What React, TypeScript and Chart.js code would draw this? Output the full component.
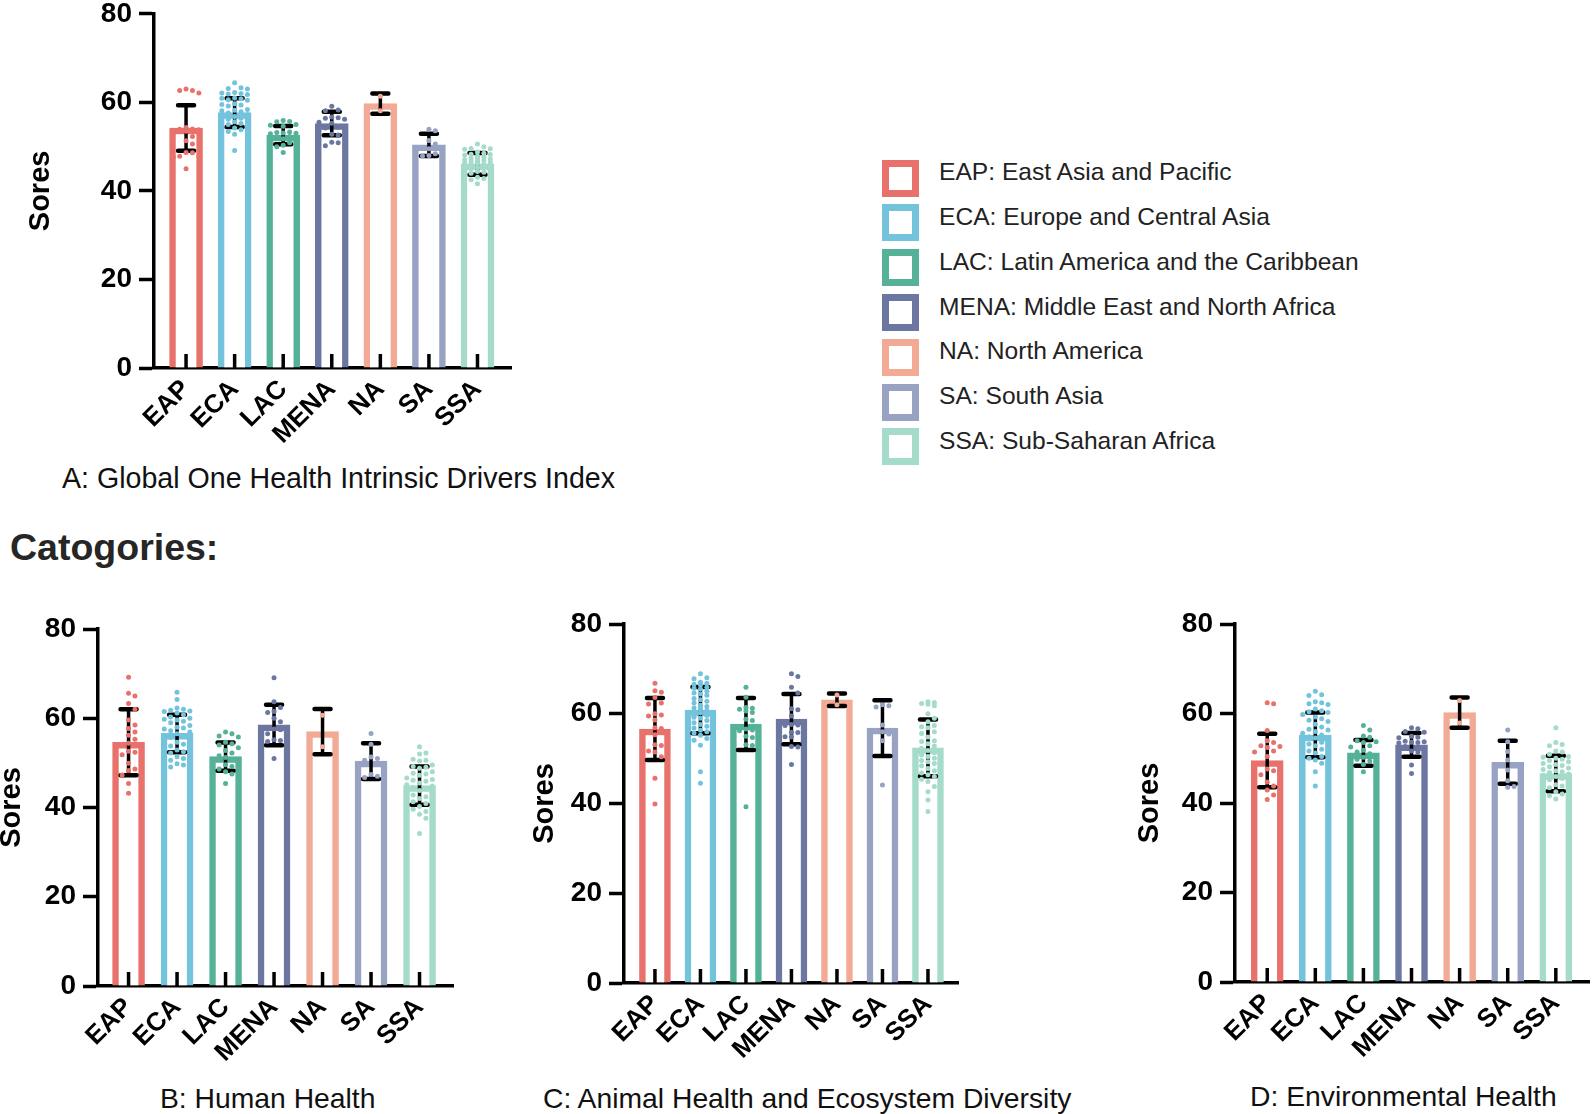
import React, { useEffect, useRef } from 'react';
import { Chart, registerables } from 'chart.js';
Chart.register(...registerables);

const FONT = "'Liberation Sans', Arial, Helvetica, sans-serif";
Chart.defaults.font.family = FONT;

// ---------- categories / labels ----------
const categories = ['EAP', 'ECA', 'LAC', 'MENA', 'NA', 'SA', 'SSA'];
const regionNames = [
  'EAP: East Asia and Pacific',
  'ECA: Europe and Central Asia',
  'LAC: Latin America and the Caribbean',
  'MENA: Middle East and North Africa',
  'NA: North America',
  'SA: South Asia',
  'SSA: Sub-Saharan Africa',
];
const colors = ['#E9716B', '#73C3DC', '#55B198', '#6C77A1', '#F3AA95', '#98A3C4', '#A4DBCA'];
const yTicks = [0, 20, 40, 60, 80];
const yAxisTitle = 'Sores';
const panelTitles = [
  'A: Global One Health Intrinsic Drivers Index',
  'B: Human Health',
  'C: Animal Health and Ecosystem Diversity',
  'D: Environmental Health',
];
const sectionTitle = 'Catogories:';

// ---------- Panel A: Global index ----------
const meansA = [54.2, 57.7, 52.6, 55.2, 59.7, 50.4, 46.1];
const sdA = [5.15, 3.25, 2.05, 2.65, 2.3, 2.5, 2.45];
const aEAP = [63.0, 62.7, 62.7, 62.1, 54.3, 54.0, 53.9, 53.8, 53.7, 53.5, 52.3, 51.3, 50.6, 48.7, 48.6, 47.8, 47.7, 47.6, 45.0];
const aECA = [64.4, 63.3, 63.1, 63.0, 62.2, 62.1, 62.0, 61.9, 61.8, 61.0, 60.9, 60.8, 60.6, 60.5, 59.7, 59.5, 59.4, 59.2, 58.4, 58.2, 58.1, 57.9, 57.6, 57.2, 56.8, 56.6, 56.4, 56.2, 55.8, 55.6, 55.4, 55.2, 55.0, 54.6, 54.2, 54.0, 53.8, 53.4, 53.1, 52.8, 49.1];
const aLAC = [55.9, 55.7, 55.6, 55.0, 54.8, 54.6, 53.3, 53.2, 53.1, 53.0, 52.9, 52.3, 52.0, 51.8, 51.1, 51.0, 50.9, 50.3, 50.0, 48.7];
const aMENA = [59.1, 58.3, 58.1, 56.7, 56.5, 56.4, 56.2, 55.5, 55.3, 54.4, 54.2, 52.8, 52.6, 51.0, 50.9, 50.2];
const aNA = [61.4, 58.1];
const aSA = [53.9, 53.6, 51.4, 49.5, 48.4, 48.0, 47.9, 50.6];
const aSSA = [50.6, 50.0, 49.6, 49.5, 49.4, 48.8, 48.5, 48.3, 48.2, 48.1, 47.9, 47.6, 47.4, 47.2, 47.1, 47.0, 46.9, 46.6, 46.4, 46.3, 46.2, 46.0, 45.9, 45.7, 45.5, 45.3, 45.1, 45.0, 44.8, 44.6, 44.4, 44.2, 44.0, 43.8, 43.5, 43.1, 42.8, 42.5, 42.0, 41.6, 41.5];

// ---------- Panel B: Human Health ----------
const meansB = [54.6, 56.6, 51.4, 58.5, 57.0, 50.4, 44.9];
const sdB = [7.4, 4.2, 3.15, 4.55, 5.05, 4.0, 4.3];
const bEAP = [69.2, 65.6, 65.0, 63.3, 62.0, 59.6, 58.5, 57.7, 56.9, 56.2, 55.3, 54.4, 52.6, 52.4, 51.8, 49.9, 48.6, 48.3, 47.3, 45.4, 43.2];
const bECA = [65.8, 64.2, 62.3, 62.0, 61.8, 61.6, 61.5, 61.2, 60.8, 60.3, 60.0, 59.8, 59.6, 59.3, 59.0, 58.4, 58.0, 57.8, 57.6, 57.2, 56.9, 56.5, 56.0, 55.7, 55.4, 55.1, 54.6, 54.2, 53.8, 53.6, 53.3, 52.9, 52.5, 52.2, 51.8, 51.4, 51.0, 50.6, 50.2, 49.8, 49.5, 49.1];
const bLAC = [56.9, 56.5, 56.0, 55.8, 54.6, 54.3, 54.0, 53.4, 52.8, 52.2, 51.6, 51.2, 50.7, 50.2, 49.6, 49.2, 48.6, 48.0, 47.5, 45.4];
const bMENA = [69.1, 63.7, 62.4, 61.5, 61.3, 60.0, 59.2, 57.6, 57.4, 56.5, 55.2, 55.0, 54.8, 54.0, 51.0];
const bNA = [60.7, 53.6];
const bSA = [56.6, 54.2, 51.3, 51.0, 50.6, 47.4, 47.0, 46.7];
const bSSA = [53.6, 52.2, 52.0, 50.8, 50.6, 50.4, 49.5, 49.2, 49.0, 48.8, 48.0, 47.7, 47.5, 47.2, 46.6, 46.3, 46.1, 45.9, 45.5, 45.1, 44.8, 44.5, 44.2, 43.8, 43.4, 43.2, 42.8, 42.4, 42.0, 41.7, 41.3, 40.9, 40.6, 40.2, 39.6, 39.1, 38.5, 37.6, 34.2];

// ---------- Panel C: Animal Health and Ecosystem Diversity ----------
const meansC = [56.6, 60.8, 57.7, 58.8, 63.1, 56.8, 52.4];
const sdC = [6.9, 5.15, 5.8, 5.6, 1.4, 6.2, 6.3];
const cEAP = [66.8, 65.1, 64.8, 63.6, 62.4, 62.2, 60.0, 59.7, 59.5, 58.6, 56.9, 56.7, 55.3, 53.1, 52.9, 51.7, 51.5, 50.4, 45.6, 39.9];
const cECA = [68.9, 68.0, 67.8, 67.0, 66.8, 66.6, 66.4, 65.9, 65.7, 65.5, 65.0, 64.6, 64.4, 64.1, 63.4, 63.1, 62.8, 62.4, 61.9, 61.6, 61.3, 61.0, 60.7, 60.5, 60.2, 59.6, 59.2, 59.0, 58.5, 58.0, 57.6, 57.2, 56.8, 56.3, 56.0, 55.7, 55.2, 54.5, 54.1, 53.0, 47.1, 44.5];
const cLAC = [65.9, 63.7, 61.4, 61.2, 61.0, 60.6, 60.3, 58.8, 58.5, 56.6, 56.4, 56.2, 55.0, 54.7, 53.1, 52.9, 39.3];
const cMENA = [68.9, 68.3, 65.9, 64.6, 61.1, 60.9, 59.5, 57.6, 57.5, 57.4, 55.9, 55.8, 54.9, 54.8, 52.7, 52.6, 48.7];
const cNA = [64.2, 62.0];
const cSA = [62.0, 61.8, 61.5, 57.5, 56.0, 55.5, 54.0, 44.1];
const cSSA = [62.7, 62.5, 62.3, 62.1, 61.8, 60.0, 59.0, 58.2, 57.4, 57.1, 56.9, 56.0, 55.6, 54.8, 54.0, 53.8, 53.3, 52.8, 52.3, 51.8, 51.3, 50.8, 50.5, 50.1, 49.6, 49.3, 48.9, 48.4, 47.8, 47.3, 46.8, 46.4, 46.0, 45.4, 44.9, 43.8, 42.6, 40.8, 38.2];

// ---------- Panel D: Environmental Health ----------
const meansD = [49.5, 55.2, 51.2, 53.0, 60.2, 49.1, 46.6];
const sdD = [6.0, 5.0, 2.9, 2.65, 3.4, 4.8, 3.95];
const dEAP = [62.4, 62.2, 56.2, 53.9, 53.5, 52.8, 52.6, 52.4, 51.6, 51.4, 50.4, 47.6, 47.2, 46.3, 44.7, 43.8, 42.9, 41.8, 40.8];
const dECA = [65.0, 64.2, 64.0, 62.6, 62.4, 62.2, 62.0, 61.0, 60.6, 60.4, 60.2, 59.8, 59.2, 58.8, 58.5, 58.2, 57.6, 57.0, 56.5, 56.3, 56.0, 55.6, 55.2, 54.8, 54.5, 54.0, 53.6, 53.2, 52.8, 52.4, 52.0, 51.6, 51.2, 50.8, 50.4, 50.0, 49.6, 49.2, 48.9, 47.0, 43.8];
const dLAC = [57.3, 56.3, 55.0, 54.7, 53.9, 53.7, 53.5, 52.8, 52.5, 51.8, 51.4, 51.0, 50.6, 50.2, 49.8, 49.6, 49.4, 48.6, 47.0];
const dMENA = [56.8, 56.6, 56.0, 55.8, 54.9, 54.7, 54.6, 53.8, 53.7, 53.6, 53.5, 53.4, 52.6, 51.6, 51.4, 48.5, 46.6];
const dNA = [62.9, 57.9];
const dSA = [56.3, 53.7, 51.5, 49.6, 47.4, 45.0, 43.7, 43.5];
const dSSA = [56.8, 53.5, 53.1, 52.8, 51.6, 51.4, 50.9, 50.4, 50.2, 50.0, 49.8, 49.5, 49.2, 48.8, 48.6, 48.4, 48.1, 47.8, 47.5, 47.2, 47.0, 46.8, 46.5, 46.2, 45.9, 45.5, 45.2, 44.9, 44.5, 44.1, 43.8, 43.4, 42.9, 42.5, 42.0, 41.6, 41.3, 40.9, 40.6];

// ---------- layout (styling only) ----------
type Geo = {
  left: number; top: number; width: number; height: number;
  l: number; r: number; t: number; b: number;
  xMin: number; xMax: number; barW: number; titleX: number;
};
const geoA: Geo = { left: -10, top: -10, width: 540, height: 470, l: 154, r: 511, t: 10, b: 368, xMin: -0.66, xMax: 6.69, barW: 33, titleX: 41 };
const geoB: Geo = { left: -10, top: 590, width: 480, height: 510, l: 98, r: 453, t: 629, b: 986, xMin: -0.63, xMax: 6.69, barW: 32, titleX: 12 };
const geoC: Geo = { left: 500, top: 590, width: 480, height: 510, l: 624, r: 958, t: 624, b: 983, xMin: -0.68, xMax: 6.66, barW: 31, titleX: 545 };
const geoD: Geo = { left: 1080, top: 590, width: 513, height: 510, l: 1235, r: 1592, t: 624, b: 982, xMin: -0.67, xMax: 6.69, barW: 32, titleX: 1150 };

const panels = [
  { key: 'A', geo: geoA, means: meansA, sds: sdA, points: [aEAP, aECA, aLAC, aMENA, aNA, aSA, aSSA] },
  { key: 'B', geo: geoB, means: meansB, sds: sdB, points: [bEAP, bECA, bLAC, bMENA, bNA, bSA, bSSA] },
  { key: 'C', geo: geoC, means: meansC, sds: sdC, points: [cEAP, cECA, cLAC, cMENA, cNA, cSA, cSSA] },
  { key: 'D', geo: geoD, means: meansD, sds: sdD, points: [dEAP, dECA, dLAC, dMENA, dNA, dSA, dSSA] },
];

// beeswarm placement of dots inside a bar (pixel offsets from centre)
function swarmOffsets(vals: number[], pxPerUnit: number, half: number): number[] {
  const d = 6.4;
  const idx = vals.map((_, i) => i).sort((a, b) => vals[b] - vals[a]);
  const placed: [number, number][] = [];
  const out = new Array(vals.length).fill(0);
  for (const i of idx) {
    const y = vals[i] * pxPerUnit;
    let chosen: number | null = null;
    let bestX = 0;
    let bestD = -1;
    for (let k = 0; k < 40; k++) {
      const c = k === 0 ? 0 : (k % 2 ? 1 : -1) * Math.ceil(k / 2) * d;
      if (Math.abs(c) > half) break;
      let minD = Infinity;
      for (const [px, py] of placed) {
        const dd = Math.hypot(px - c, py - y);
        if (dd < minD) minD = dd;
      }
      if (minD >= d) { chosen = c; break; }
      if (minD > bestD) { bestD = minD; bestX = c; }
    }
    const x = chosen ?? bestX;
    out[i] = x;
    placed.push([x, y]);
  }
  return out;
}

const errorBarsPlugin = {
  id: 'errorBars',
  afterDatasetDraw(chart: any, args: any) {
    const ds = chart.data.datasets[args.index];
    if (!ds.errors) return;
    const { ctx, scales } = chart;
    const x = scales.x, y = scales.y;
    ctx.save();
    ctx.strokeStyle = '#000';
    ds.data.forEach((d: any, i: number) => {
      const px = x.getPixelForValue(d.x);
      const top = y.getPixelForValue(d.y + ds.errors[i]);
      const bot = y.getPixelForValue(d.y - ds.errors[i]);
      ctx.lineWidth = 3.5;
      ctx.lineCap = 'butt';
      ctx.beginPath();
      ctx.moveTo(px, top);
      ctx.lineTo(px, bot);
      ctx.stroke();
      ctx.lineWidth = 4.5;
      ctx.lineCap = 'round';
      ctx.beginPath();
      ctx.moveTo(px - 8, top); ctx.lineTo(px + 8, top);
      ctx.moveTo(px - 8, bot); ctx.lineTo(px + 8, bot);
      ctx.stroke();
    });
    ctx.restore();
  },
};

const innerTicksPlugin = {
  id: 'innerTicks',
  afterDatasetsDraw(chart: any) {
    const { ctx, scales } = chart;
    const x = scales.x, y = scales.y;
    const base = y.getPixelForValue(0);
    ctx.save();
    ctx.strokeStyle = '#000';
    ctx.lineWidth = 3.5;
    ctx.beginPath();
    categories.forEach((_, i) => {
      const px = x.getPixelForValue(i);
      ctx.moveTo(px, base);
      ctx.lineTo(px, base - 14);
    });
    ctx.stroke();
    ctx.restore();
  },
};

function buildChart(canvas: HTMLCanvasElement, p: typeof panels[number]) {
  const geo = p.geo;
  const pxPerCat = (geo.r - geo.l) / (geo.xMax - geo.xMin);
  const pxPerUnit = (geo.b - geo.t) / 80;
  const scatterData: { x: number; y: number }[] = [];
  const scatterColors: string[] = [];
  p.points.forEach((vals, ci) => {
    const offs = swarmOffsets(vals, pxPerUnit, geo.barW / 2 - 3);
    vals.forEach((v, k) => {
      scatterData.push({ x: ci + offs[k] / pxPerCat, y: v });
      scatterColors.push(colors[ci]);
    });
  });

  return new Chart(canvas, {
    type: 'bar',
    data: {
      datasets: [
        {
          type: 'bar',
          data: p.means.map((m, i) => ({ x: i, y: m })),
          backgroundColor: '#ffffff',
          borderColor: colors,
          borderWidth: 6.5,
          borderSkipped: 'start',
          barThickness: geo.barW,
          order: 2,
          errors: p.sds,
        } as any,
        {
          type: 'scatter',
          data: scatterData,
          pointBackgroundColor: scatterColors,
          pointBorderWidth: 0,
          pointRadius: 2.5,
          order: 1,
        } as any,
      ],
    },
    options: {
      responsive: false,
      animation: false,
      devicePixelRatio: 1,
      layout: {
        padding: { left: 0, top: geo.t - geo.top, right: geo.left + geo.width - geo.r, bottom: 0 },
      },
      plugins: { legend: { display: false }, tooltip: { enabled: false } },
      scales: {
        x: {
          type: 'linear',
          offset: false,
          min: geo.xMin,
          max: geo.xMax,
          afterBuildTicks: (s: any) => { s.ticks = categories.map((_, i) => ({ value: i })); },
          afterFit: (s: any) => { s.height = geo.top + geo.height - geo.b; },
          grid: { display: false, drawTicks: false, offset: false },
          border: { display: true, width: 3.5, color: '#000' },
          ticks: {
            autoSkip: false,
            minRotation: 45,
            maxRotation: 45,
            padding: 6,
            color: '#000',
            font: { size: 26, weight: 'bold', family: FONT },
            callback: (v: any) => categories[v] ?? '',
          },
        },
        y: {
          min: 0,
          max: 80,
          afterBuildTicks: (s: any) => { s.ticks = yTicks.map((v) => ({ value: v })); },
          afterFit: (s: any) => { s.width = geo.l - geo.left; },
          grid: { drawOnChartArea: false, drawTicks: true, tickLength: 15, tickWidth: 3.5, tickColor: '#000' },
          border: { display: true, width: 3.5, color: '#000' },
          ticks: { padding: 7, color: '#000', font: { size: 28, weight: 'bold', family: FONT } },
          title: {
            display: true,
            text: yAxisTitle,
            color: '#000',
            font: { size: 29, weight: 'bold', family: FONT },
            padding: { top: geo.titleX - geo.left - 17.4, bottom: 0 },
          },
        },
      },
    } as any,
    plugins: [errorBarsPlugin, innerTicksPlugin],
  });
}

function Panel({ cfg }: { cfg: typeof panels[number] }) {
  const ref = useRef<HTMLCanvasElement>(null);
  useEffect(() => {
    const chart = buildChart(ref.current!, cfg);
    return () => chart.destroy();
  }, []);
  const g = cfg.geo;
  return (
    <canvas
      ref={ref}
      width={g.width}
      height={g.height}
      style={{ position: 'absolute', left: g.left, top: g.top, width: g.width, height: g.height }}
    />
  );
}

function Label({ text, left, cy, size, bold, color }: { text: string; left: number; cy: number; size: number; bold?: boolean; color?: string }) {
  return (
    <div
      style={{
        position: 'absolute',
        left,
        top: cy - size / 2,
        fontSize: size,
        lineHeight: `${size}px`,
        fontFamily: FONT,
        fontWeight: bold ? 'bold' : 'normal',
        color: color ?? '#111',
        whiteSpace: 'nowrap',
      }}
    >
      {text}
    </div>
  );
}

export default function App() {
  return (
    <div style={{ position: 'absolute', left: 0, top: 0, width: 1593, height: 1114, overflow: 'hidden', background: '#fff' }}>
      <Label text={panelTitles[0]} left={62} cy={478} size={28.6} />
      <Label text={sectionTitle} left={10} cy={548} size={37.5} bold color="#262626" />
      <Label text={panelTitles[1]} left={160} cy={1098} size={28.3} />
      <Label text={panelTitles[2]} left={543} cy={1098} size={28.3} />
      <Label text={panelTitles[3]} left={1250} cy={1096} size={28.3} />
      {regionNames.map((name, i) => (
        <React.Fragment key={name}>
          <div
            style={{
              position: 'absolute',
              left: 882,
              top: 159.5 + i * 44.8,
              width: 37,
              height: 37,
              boxSizing: 'border-box',
              border: `7px solid ${colors[i]}`,
              background: '#fff',
            }}
          />
          <Label text={name} left={939} cy={172.5 + i * 44.8} size={24.6} color="#222" />
        </React.Fragment>
      ))}
      {panels.map((p) => (
        <Panel key={p.key} cfg={p} />
      ))}
    </div>
  );
}
